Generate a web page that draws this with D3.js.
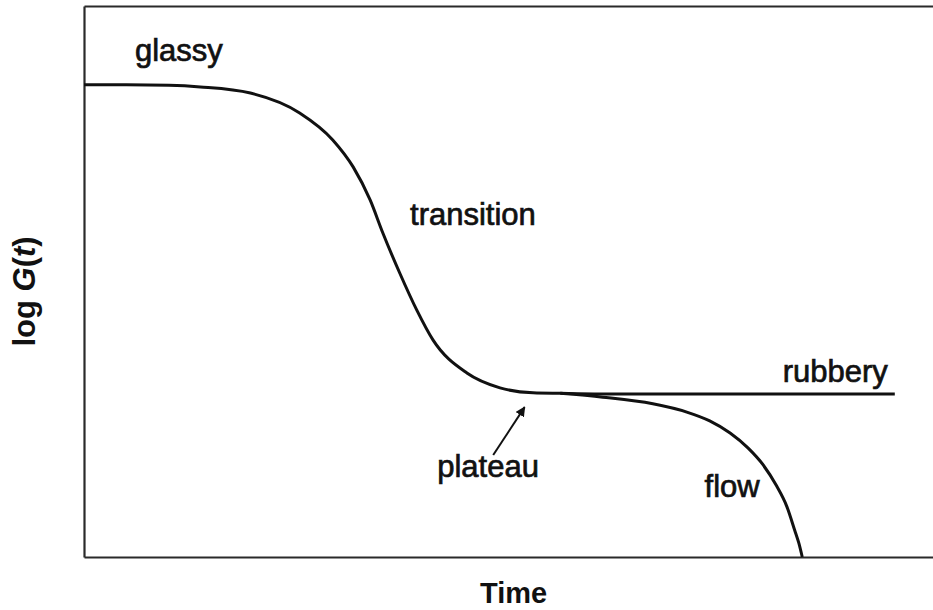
<!DOCTYPE html>
<html>
<head>
<meta charset="utf-8">
<script src="https://cdn.jsdelivr.net/npm/d3@7"></script>
<style>
  body { margin: 0; background: #fff; }
  svg { display: block; }
</style>
</head>
<body>
<div id="chart"></div>
<script>
// schematic relaxation modulus, arbitrary units (time 0-100, log G 0-100)
const mainTime = [0, 5, 10, 13.7, 19.6, 25.4, 29.3, 31.7, 33.7, 35.2, 37.2, 39.2, 41.1, 45.1, 49.0, 52.9, 56.1, 60.8, 72.6, 84.3, 95.5];
const mainLogG = [85.7, 85.7, 85.6, 85.3, 84.2, 80.6, 75.7, 70.8, 64.8, 58.8, 51.5, 44.8, 39.4, 33.4, 30.7, 29.8, 29.7, 29.6, 29.6, 29.6, 29.6];

const flowTime = [56.1, 61.1, 67.0, 71.0, 73.7, 76.1, 78.2, 80.0, 81.5, 82.8, 83.7, 84.2, 84.6];
const flowLogG = [29.7, 29.0, 27.8, 26.3, 24.7, 22.5, 19.8, 16.7, 13.1, 9.1, 4.9, 2.5, 0];

const labels = ["glassy", "transition", "rubbery", "plateau", "flow"];
const labelTime = [6.0, 38.4, 82.3, 41.6, 73.1];
const labelLogG = [90.0, 60.3, 31.8, 14.5, 10.9];

// arrow from "plateau" label up to the curve
const arrowTime = [48.2, 51.9];
const arrowLogG = [18.5, 27.2];

const width = 933, height = 610;

const svg = d3.select("#chart")
  .append("svg")
    .attr("width", width)
    .attr("height", height);

const x = d3.scaleLinear().domain([0, 100]).range([84, 933]);
const y = d3.scaleLinear().domain([0, 100]).range([557, 6]);

// frame: left, bottom and top rules, no ticks
const frame = (g) => g.call(s => s.select(".domain")
    .attr("stroke", "#2a2a2a").attr("stroke-width", 2.2));

svg.append("g")
  .attr("transform", `translate(0, ${y(0)})`)
  .call(d3.axisBottom(x).ticks(0).tickSize(0).tickSizeOuter(0))
  .call(frame);
svg.append("g")
  .attr("transform", `translate(0, ${y(100)})`)
  .call(d3.axisTop(x).ticks(0).tickSize(0).tickSizeOuter(0))
  .call(frame);
svg.append("g")
  .attr("transform", `translate(${x(0)}, 0)`)
  .call(d3.axisLeft(y).ticks(0).tickSize(0).tickSizeOuter(0))
  .call(frame);

const line = d3.line()
  .x(d => x(d[0]))
  .y(d => y(d[1]))
  .curve(d3.curveMonotoneX);

svg.append("path")
  .datum(d3.zip(mainTime, mainLogG))
  .attr("d", line)
  .attr("fill", "none")
  .attr("stroke", "#111")
  .attr("stroke-width", 3);

svg.append("path")
  .datum(d3.zip(flowTime, flowLogG))
  .attr("d", line)
  .attr("fill", "none")
  .attr("stroke", "#111")
  .attr("stroke-width", 3);

// arrow
svg.append("defs").append("marker")
  .attr("id", "head")
  .attr("viewBox", "0 0 10 10")
  .attr("refX", 9).attr("refY", 5)
  .attr("markerWidth", 5).attr("markerHeight", 5)
  .attr("orient", "auto")
  .append("path")
    .attr("d", "M0,0 L10,5 L0,10 z")
    .attr("fill", "#111");

svg.append("line")
  .attr("x1", x(arrowTime[0])).attr("y1", y(arrowLogG[0]))
  .attr("x2", x(arrowTime[1])).attr("y2", y(arrowLogG[1]))
  .attr("stroke", "#111")
  .attr("stroke-width", 2)
  .attr("marker-end", "url(#head)");

svg.selectAll("text.region")
  .data(labels)
  .join("text")
    .attr("class", "region")
    .attr("x", (d, i) => x(labelTime[i]))
    .attr("y", (d, i) => y(labelLogG[i]))
    .text(d => d)
    .style("font-family", "Liberation Sans, Arial, sans-serif")
    .style("font-size", "31px")
    .attr("fill", "#111")
    .attr("stroke", "#111")
    .attr("stroke-width", 0.7);

// axis titles
svg.append("text")
  .attr("x", x(50.6))
  .attr("y", 603)
  .attr("text-anchor", "middle")
  .style("font-family", "Liberation Sans, Arial, sans-serif")
  .style("font-size", "29px")
  .style("font-weight", "bold")
  .attr("fill", "#111")
  .text("Time");

const yTitle = svg.append("text")
  .attr("transform", `translate(35, ${y(48.2)}) rotate(-90)`)
  .attr("text-anchor", "middle")
  .style("font-family", "Liberation Sans, Arial, sans-serif")
  .style("font-size", "31px")
  .style("font-weight", "bold")
  .attr("fill", "#111");
yTitle.append("tspan").text("log ");
yTitle.append("tspan").style("font-style", "italic").text("G");
yTitle.append("tspan").text("(");
yTitle.append("tspan").style("font-style", "italic").text("t");
yTitle.append("tspan").text(")");
</script>
</body>
</html>
